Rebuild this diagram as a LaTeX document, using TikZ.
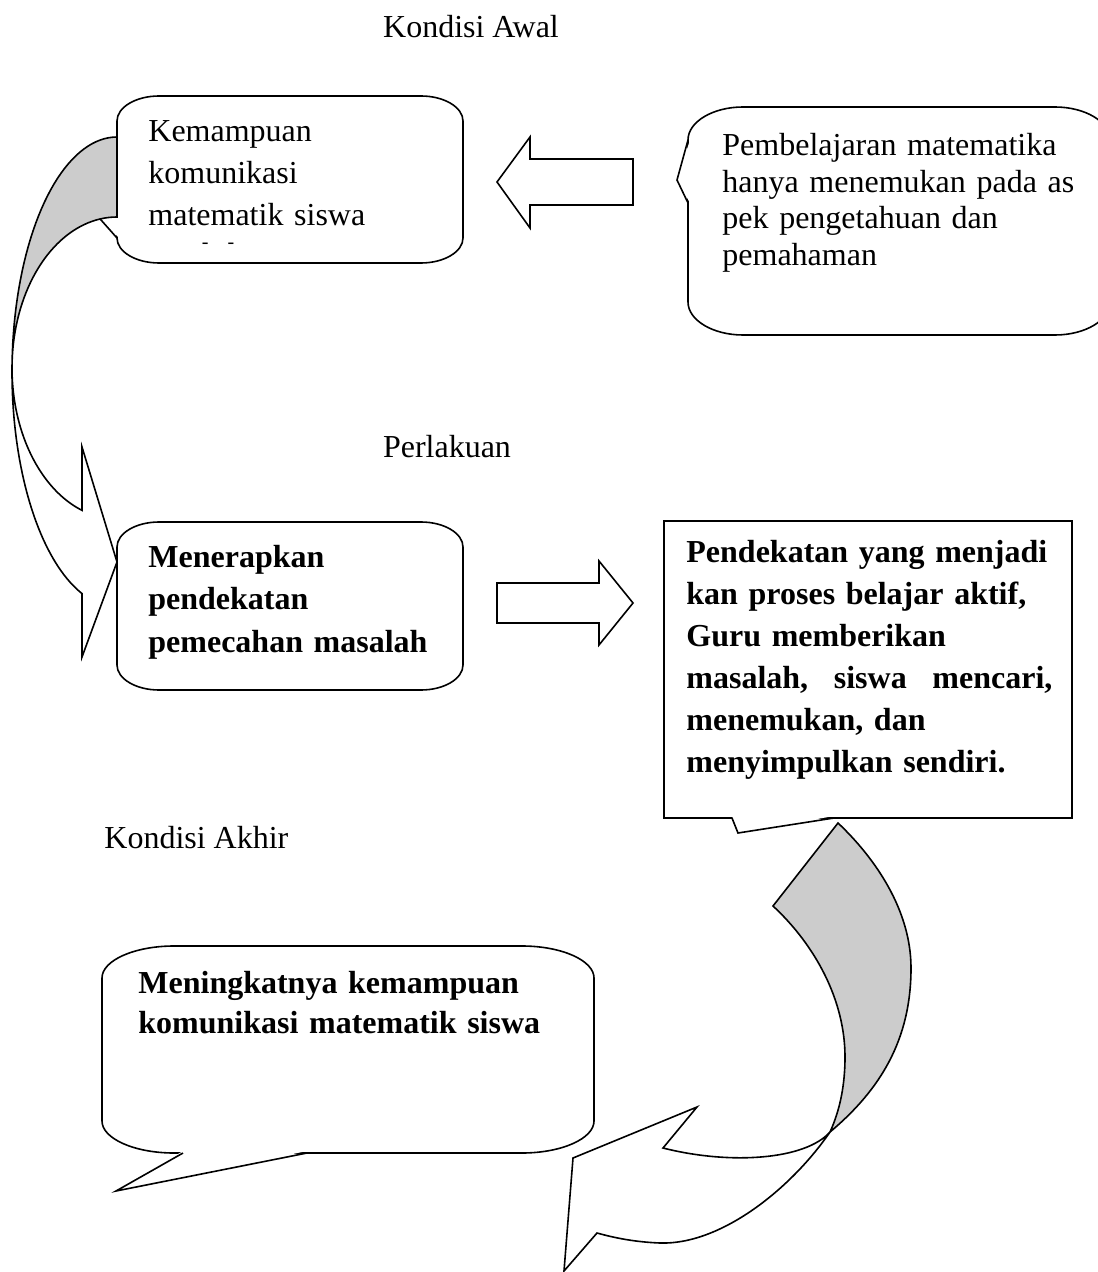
\documentclass[tikz,border=0pt]{standalone}
\usepackage{fontspec}
\setmainfont{Liberation Serif}
\usetikzlibrary{positioning}
\definecolor{shadegray}{RGB}{204,204,204}

\tikzset{
  outline/.style={draw=black, line width=0.8pt},
  bubble/.style={outline, fill=white},
  bandback/.style={outline, fill=shadegray},
  bandfront/.style={outline, fill=white},
  caption/.style={inner sep=0pt, font=\fontsize{16}{20}\selectfont},
  boxtext/.style={inner sep=0pt, anchor=base west, align=left, text width=#1}
}

% box with soft (elliptic) corners: x1,y1,x2,y2,rx,ry
\newcommand{\softbox}[6]{%
  (#1+#5,#2) -- (#3-#5,#2)
  .. controls (#3-0.45*#5,#2) and (#3,#2+0.45*#6) .. (#3,#2+#6)
  -- (#3,#4-#6)
  .. controls (#3,#4-0.45*#6) and (#3-0.45*#5,#4) .. (#3-#5,#4)
  -- (#1+#5,#4)
  .. controls (#1+0.45*#5,#4) and (#1,#4-0.45*#6) .. (#1,#4-#6)
  -- (#1,#2+#6)
  .. controls (#1,#2+0.45*#6) and (#1+0.45*#5,#2) .. (#1+#5,#2) -- cycle}

\begin{document}
\begin{tikzpicture}[x=0.5pt, y=-0.5pt, font=\fontsize{16}{20}\selectfont]
\useasboundingbox (0,0) rectangle (1097,1272);

% Kondisi awal
\node[caption] (awal) at (471,27) {Kondisi Awal};

\filldraw[bubble] \softbox{117}{96}{463}{263}{42}{25};
\fill[white] (119,238) -- (70,185) -- (119,175) -- cycle;
\draw[outline] (117,238) -- (70,185) -- (117,175);
\node[boxtext=170pt, font=\fontsize{16}{21}\selectfont] (kemampuan) at (148,142)
  {Kemampuan\\komunikasi\\matematik siswa};
\node[caption, font=\fontsize{10}{12}\selectfont] (sisa) at (218,246) {-\hspace{9.5pt}-};

% curved arrow on the left
\filldraw[bandback] plot[variable=\t, domain=-90:0, samples=40] ({117-105*cos(\t)},{372+235*sin(\t)})
  -- plot[variable=\t, domain=0:-90, samples=40] ({117-105*cos(\t)},{368+151*sin(\t)}) -- cycle;
\filldraw[bandfront] plot[variable=\t, domain=0:70.53, samples=40] ({117-105*cos(\t)},{372+235*sin(\t)})
  -- (82,657) -- (117,562) -- (82,447)
  -- plot[variable=\t, domain=70.53:0, samples=40] ({117-105*cos(\t)},{368+151*sin(\t)}) -- cycle;

\draw[outline] (633,159) -- (530,159) -- (530,137) -- (497,182) -- (530,228) -- (530,205) -- (633,205) -- cycle;

\filldraw[bubble] \softbox{688}{107}{1110}{335}{55}{33};
\fill[white] (690,140) -- (677,180) -- (690,203) -- cycle;
\draw[outline] (688,140) -- (677,180) -- (688,203);
\node[boxtext=190pt, font=\fontsize{16}{18.25}\selectfont] (pembelajaran) at (722,156)
  {Pembelajaran matematika\\hanya menemukan pada as\\pek pengetahuan dan\\pemahaman};

% Perlakuan
\node[caption] (perlakuan) at (447,447) {Perlakuan};

\filldraw[bubble] \softbox{117}{522}{463}{690}{42}{25};
\node[boxtext=170pt, font=\bfseries\fontsize{16}{21.25}\selectfont] (menerapkan) at (148,567)
  {Menerapkan\\pendekatan\\pemecahan masalah};

\draw[outline] (497,583) -- (599,583) -- (599,561) -- (633,603) -- (599,645) -- (599,623) -- (497,623) -- cycle;

\filldraw[bubble] (664,521) rectangle (1072,818);
\fill[white] (732,816) -- (738,833) -- (834,816) -- cycle;
\draw[outline] (732,818) -- (738,833) -- (834,818);
\node[boxtext=183pt, font=\bfseries\fontsize{16}{21}\selectfont] (pendekatan) at (686,562)
  {Pendekatan yang menjadi\\kan proses belajar aktif,\\Guru memberikan\\
   \makebox[183pt]{masalah,\hfill siswa\hfill mencari,}\\menemukan, dan\\menyimpulkan sendiri.};

% curved arrow at the bottom
\filldraw[bandback] (838,823) -- (773,906)
  .. controls (815,945) and (845,1000) .. (845,1057)
  .. controls (845,1085) and (840,1110) .. (830,1132)
  .. controls (880,1090) and (911,1040) .. (911,968)
  .. controls (911,910) and (875,858) .. (838,823) -- cycle;
\filldraw[bandfront] (830,1132) .. controls (790,1190) and (720,1245) .. (660,1243)
  .. controls (635,1242) and (615,1238) .. (597,1233)
  -- (564,1271) -- (573,1158) -- (697,1107) -- (663,1148)
  .. controls (730,1165) and (805,1160) .. (830,1132) -- cycle;

% Kondisi akhir
\node[caption, anchor=west] (akhir) at (104,838) {Kondisi Akhir};

\filldraw[bubble] \softbox{102}{946}{594}{1153}{72}{32};
\fill[white] (183,1151) -- (116,1191) -- (307,1151) -- cycle;
\draw[outline] (183,1153) -- (116,1191) -- (307,1153);
\node[boxtext=250pt, font=\bfseries\fontsize{16}{20}\selectfont] (meningkat) at (138,993)
  {Meningkatnya kemampuan\\komunikasi matematik siswa};
\end{tikzpicture}
\end{document}
